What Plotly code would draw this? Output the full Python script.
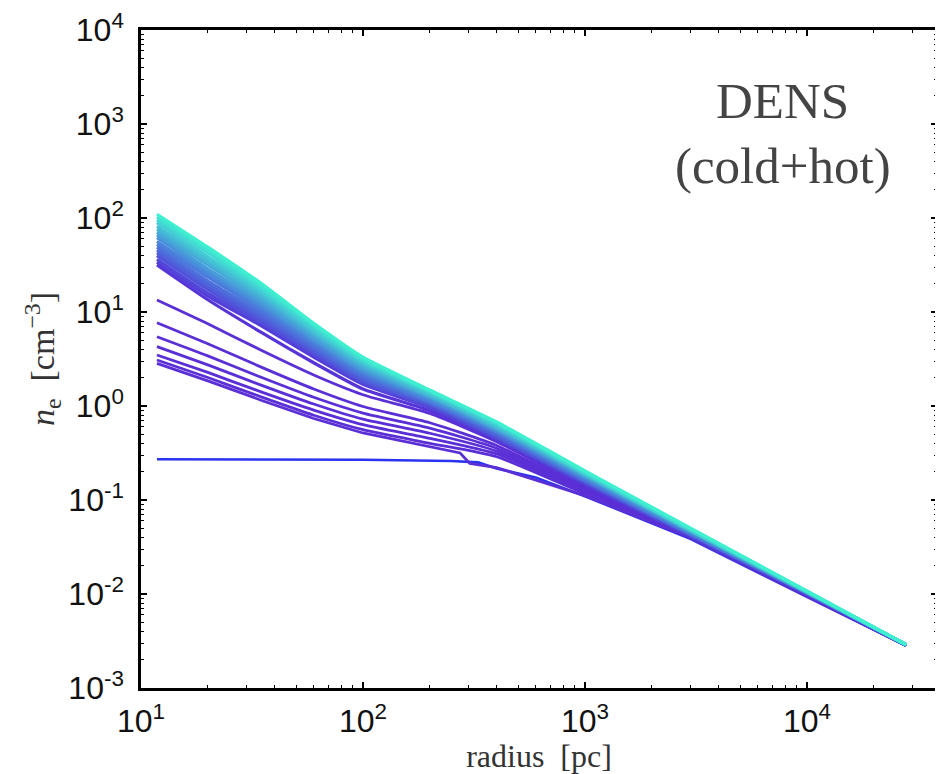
import plotly.graph_objects as go
from plotly.colors import sample_colorscale

# ---------------- data (log10 n_e) ----------------
# flat (earliest) profile
flat_r = [11.8, 100, 250, 330, 400, 600, 1000, 3000, 10000, 28000]
flat_logne = [-0.567, -0.572, -0.585, -0.60, -0.665, -0.76, -0.96, -1.415, -2.03, -2.55]

# separated purple profiles
purple_r = [11.8, 20, 35, 60, 100, 200, 400, 1000, 3000, 10000, 28000]
purple_logne = [
    [1.128, 0.875, 0.59, 0.33, 0.12, -0.08, -0.38, -0.86, -1.37, -2.00, -2.545],
    [0.886, 0.662, 0.411, 0.181, -0.005, -0.178, -0.42, -0.88, -1.38, -2.005, -2.545],
    [0.737, 0.533, 0.303, 0.093, -0.076, -0.235, -0.45, -0.90, -1.385, -2.01, -2.545],
    [0.631, 0.437, 0.220, 0.021, -0.140, -0.290, -0.48, -0.91, -1.39, -2.015, -2.545],
    [0.543, 0.357, 0.147, -0.044, -0.199, -0.344, -0.51, -0.92, -1.395, -2.02, -2.545],
    [0.489, 0.303, 0.094, -0.098, -0.252, -0.397, -0.54, -0.935, -1.40, -2.02, -2.55],
]
# lowest purple profile (drops onto the flat one near 300 pc)
last_purple_r = [11.8, 20, 35, 60, 100, 200, 274, 303, 400, 1000, 3000, 10000, 28000]
last_purple_logne = [0.454, 0.268, 0.059, -0.133, -0.287, -0.432, -0.50, -0.61, -0.655, -0.955, -1.405, -2.025, -2.55]

# dense band of later profiles (bottom -> top)
band_r = [11.8, 20, 35, 60, 100, 200, 400, 1000, 10000, 28000]
band_logne = [
    [1.50, 1.13, 0.78, 0.46, 0.18, -0.05, -0.36, -0.84, -2.00, -2.545],
    [1.53, 1.17, 0.85, 0.52, 0.23, -0.02, -0.35, -0.83, -2.00, -2.545],
    [1.56, 1.20, 0.88, 0.55, 0.25, -0.01, -0.34, -0.82, -2.00, -2.545],
    [1.60, 1.24, 0.90, 0.57, 0.26, 0.01, -0.33, -0.81, -1.99, -2.545],
    [1.63, 1.27, 0.93, 0.59, 0.28, 0.02, -0.32, -0.80, -1.99, -2.54],
    [1.66, 1.30, 0.96, 0.61, 0.30, 0.03, -0.30, -0.80, -1.99, -2.54],
    [1.69, 1.33, 0.99, 0.63, 0.32, 0.04, -0.29, -0.79, -1.99, -2.54],
    [1.72, 1.37, 1.02, 0.66, 0.34, 0.05, -0.28, -0.78, -1.99, -2.54],
    [1.75, 1.40, 1.05, 0.68, 0.36, 0.06, -0.27, -0.77, -1.99, -2.54],
    [1.79, 1.43, 1.07, 0.70, 0.37, 0.08, -0.26, -0.76, -1.98, -2.54],
    [1.82, 1.46, 1.10, 0.72, 0.39, 0.09, -0.25, -0.75, -1.98, -2.54],
    [1.85, 1.50, 1.13, 0.75, 0.41, 0.10, -0.24, -0.74, -1.98, -2.54],
    [1.88, 1.53, 1.16, 0.77, 0.43, 0.11, -0.23, -0.73, -1.98, -2.54],
    [1.91, 1.56, 1.19, 0.79, 0.45, 0.12, -0.22, -0.73, -1.98, -2.54],
    [1.95, 1.59, 1.22, 0.81, 0.47, 0.14, -0.20, -0.72, -1.98, -2.54],
    [1.98, 1.63, 1.24, 0.84, 0.48, 0.15, -0.19, -0.71, -1.97, -2.54],
    [2.01, 1.66, 1.27, 0.86, 0.50, 0.16, -0.18, -0.70, -1.97, -2.54],
    [2.04, 1.69, 1.30, 0.88, 0.52, 0.17, -0.17, -0.69, -1.97, -2.54],
]

x_tick_vals = [10, 100, 1000, 10000]
x_tick_text = ["10<sup>1</sup>", "10<sup>2</sup>", "10<sup>3</sup>", "10<sup>4</sup>"]
y_tick_vals = [1e-3, 1e-2, 1e-1, 1, 10, 100, 1000, 10000]
y_tick_text = ["10<sup>-3</sup>", "10<sup>-2</sup>", "10<sup>-1</sup>", "10<sup>0</sup>",
               "10<sup>1</sup>", "10<sup>2</sup>", "10<sup>3</sup>", "10<sup>4</sup>"]

label_line1 = "DENS"
label_line2 = "(cold+hot)"

# ---------------- figure ----------------
fig = go.Figure()

fig.add_trace(go.Scatter(x=flat_r, y=[10 ** v for v in flat_logne], mode="lines",
                         line=dict(color="#2a34f0", width=2.6), showlegend=False))

purple_col = "#5b2fd6"
for row in purple_logne:
    fig.add_trace(go.Scatter(x=purple_r, y=[10 ** v for v in row], mode="lines",
                             line=dict(color=purple_col, width=2.8, shape="spline", smoothing=0.6),
                             showlegend=False))
fig.add_trace(go.Scatter(x=last_purple_r, y=[10 ** v for v in last_purple_logne], mode="lines",
                         line=dict(color=purple_col, width=2.8), showlegend=False))

band_scale = [[0.0, "#5634d8"], [0.45, "#4a80dc"], [1.0, "#3ff0d0"]]
n_band = len(band_logne)
band_cols = sample_colorscale(band_scale, [i / (n_band - 1) for i in range(n_band)])
for row, col in zip(band_logne, band_cols):
    fig.add_trace(go.Scatter(x=band_r, y=[10 ** v for v in row], mode="lines",
                             line=dict(color=col, width=3.2, shape="spline", smoothing=0.5),
                             showlegend=False))

minor_x = [m * 10 ** e for e in range(1, 5) for m in range(2, 10)]
minor_y = [m * 10 ** e for e in range(-3, 4) for m in range(2, 10)]

axis_common = dict(
    showline=True, linecolor="black", linewidth=2.5, mirror="ticks",
    ticks="inside", ticklen=6, tickwidth=1.5, tickcolor="black",
    showgrid=False, zeroline=False, ticklabeloverflow="allow",
    tickfont=dict(family="Liberation Sans, Arial, sans-serif", size=32, color="#111111"),
)

fig.update_xaxes(
    type="log", range=[1, 4.586], tickmode="array", tickvals=x_tick_vals, ticktext=x_tick_text,
    minor=dict(tickmode="array", tickvals=minor_x, ticks="inside", ticklen=3, tickwidth=1, tickcolor="black"),
    title=dict(text="radius\u00a0\u00a0[pc]",
               font=dict(family="Liberation Serif, Times New Roman, serif", size=32, color="#333333"),
               standoff=0),
    ticklabelstandoff=3,
    **axis_common,
)
fig.update_yaxes(
    type="log", range=[-3, 4], tickmode="array", tickvals=y_tick_vals, ticktext=y_tick_text,
    minor=dict(tickmode="array", tickvals=minor_y, ticks="inside", ticklen=3, tickwidth=1, tickcolor="black"),
    title=dict(text="<i>n</i><sub>e</sub>\u00a0\u00a0[cm<sup>−3</sup>]",
               font=dict(family="Liberation Serif, Times New Roman, serif", size=34, color="#333333"),
               standoff=4),
    ticklabelstandoff=8,
    **axis_common,
)

fig.add_annotation(x=0.8065, y=0.892, xref="paper", yref="paper", text=label_line1, showarrow=False,
                   xanchor="center", yanchor="middle",
                   font=dict(family="Liberation Serif, Times New Roman, serif", size=51, color="#444444"))
fig.add_annotation(x=0.8065, y=0.793, xref="paper", yref="paper", text=label_line2, showarrow=False,
                   xanchor="center", yanchor="middle",
                   font=dict(family="Liberation Serif, Times New Roman, serif", size=51, color="#444444"))

fig.update_layout(
    width=935, height=766,
    margin=dict(l=133, r=6, t=22, b=86, autoexpand=False),
    plot_bgcolor="white", paper_bgcolor="white",
    showlegend=False,
)

fig.write_html("out.html")
